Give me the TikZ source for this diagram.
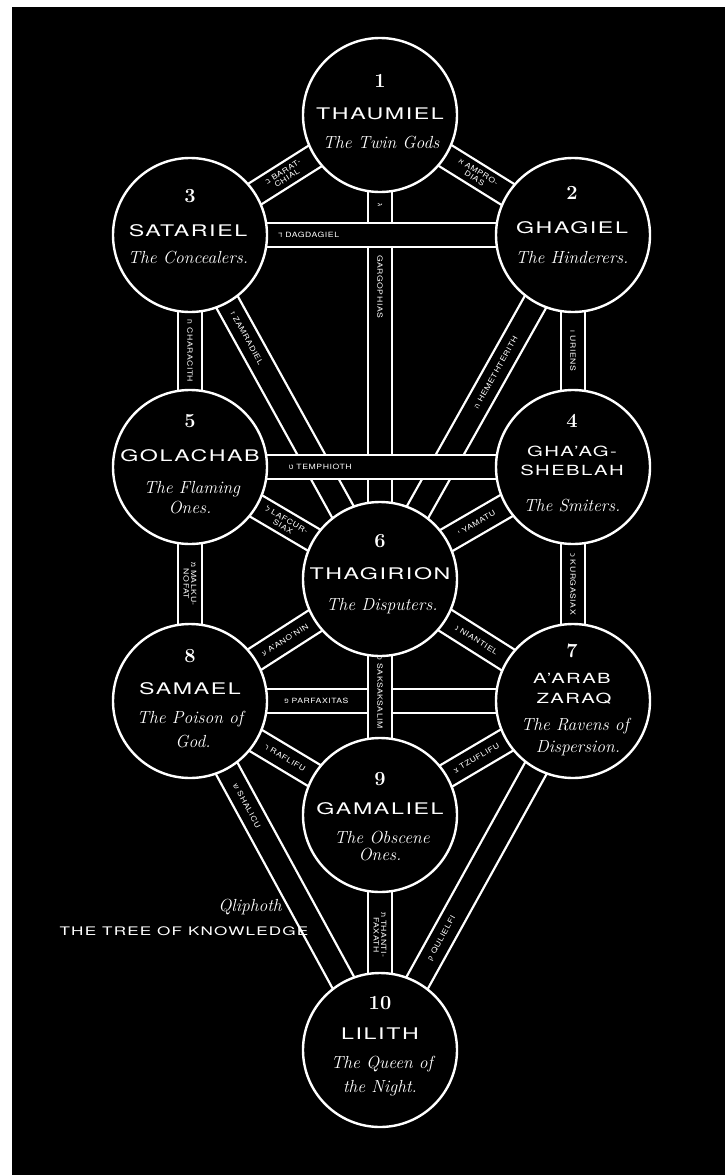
\documentclass[tikz,border=0pt]{standalone}
\usepackage{fontspec}
\newfontfamily\heros[FakeStretch=1.45,LetterSpace=10]{TeX Gyre Heros}
\newfontfamily\labfont[FakeStretch=1.2,LetterSpace=8]{TeX Gyre Heros}
\newfontfamily\hebfont{Liberation Sans}
\pgfdeclarelayer{back}
\pgfdeclarelayer{bars}
\pgfsetlayers{back,bars,main}
\begin{document}
\begin{tikzpicture}[x=1pt,y=-1pt,
  sefira/.style={circle, draw=white, line width=2.4pt, fill=black, minimum size=154pt, inner sep=0pt},
  bar/.style={draw=white, line width=2.3pt, double=black, double distance=22pt},
  blab/.style={sloped, text=white, inner sep=0pt, align=center, font=\labfont\fontsize{7.2}{7.6}\selectfont},
  num/.style={text=white, anchor=base, inner sep=0pt, font=\bfseries\fontsize{20}{20}\selectfont},
  nm/.style={text=white, anchor=base, inner sep=0pt, font=\heros\fontsize{16}{16}\selectfont},
  nms/.style={text=white, anchor=base, inner sep=0pt, font=\heros\fontsize{14}{14}\selectfont},
  desc/.style={text=white, anchor=base, inner sep=0pt, font=\itshape\fontsize{17.5}{17.5}\selectfont},
  captxt/.style={text=white, anchor=base, inner sep=0pt, font=\heros\fontsize{11.8}{11.8}\selectfont}]
\useasboundingbox (0,0) rectangle (725,1175);
\begin{pgfonlayer}{back}
\fill[white] (0,0) rectangle (725,1175);
\fill[black] (12,7) rectangle (725,1175);
\end{pgfonlayer}

% spheres
\node[sefira] (s1) at (380,115) {};
\node[sefira] (s2) at (573,235) {};
\node[sefira] (s3) at (190,235) {};
\node[sefira] (s4) at (573,467) {};
\node[sefira] (s5) at (190,467) {};
\node[sefira] (s6) at (380,579) {};
\node[sefira] (s7) at (573,701) {};
\node[sefira] (s8) at (190,701) {};
\node[sefira] (s9) at (380,815) {};
\node[sefira] (s10) at (380,1050) {};

% texts in spheres
\node[num] (n1) at (380,87) {1};
\node[nm] (m1) at (380,119) {THAUMIEL};
\node[desc] (d1) at (381,148) {The Twin Gods};

\node[num] (n3) at (190,202) {3};
\node[nm] (m3) at (188,236) {SATARIEL};
\node[desc] (d3) at (188,263) {The Concealers.};

\node[num] (n2) at (572,199) {2};
\node[nm] (m2) at (572,233) {GHAGIEL};
\node[desc] (d2) at (572,263) {The Hinderers.};

\node[num] (n5) at (190,427) {5};
\node[nm] (m5) at (190,461) {GOLACHAB};
\node[desc] (d5a) at (192,493) {The Flaming};
\node[desc] (d5b) at (190,513) {Ones.};

\node[num] (n4) at (572,427) {4};
\node[nms] (m4a) at (572,456) {GHA’AG-};
\node[nms] (m4b) at (572,475) {SHEBLAH};
\node[desc] (d4) at (572,511) {The Smiters.};

\node[num] (n6) at (380,547) {6};
\node[nm] (m6) at (380,579) {THAGIRION};
\node[desc] (d6) at (382,610) {The Disputers.};

\node[num] (n8) at (190,662) {8};
\node[nm] (m8) at (190,694) {SAMAEL};
\node[desc] (d8a) at (190,723) {The Poison of};
\node[desc] (d8b) at (193,747) {God.};

\node[num] (n7) at (572,657) {7};
\node[nms] (m7a) at (572,683) {A’ARAB};
\node[nms] (m7b) at (574,703) {ZARAQ};
\node[desc] (d7a) at (575,730) {The Ravens of};
\node[desc] (d7b) at (578,752) {Dispersion.};

\node[num] (n9) at (380,785) {9};
\node[nm] (m9) at (380,814) {GAMALIEL};
\node[desc] (d9a) at (382,843) {The Obscene};
\node[desc] (d9b) at (380,860) {Ones.};

\node[num] (n10) at (380,1009) {10};
\node[nm] (m10) at (380,1039) {LILITH};
\node[desc] (d10a) at (382,1068) {The Queen of};
\node[desc] (d10b) at (380,1092) {the Night.};

% caption
\node[desc] (q) at (250,911) {Qliphoth};
\node[captxt] (tk) at (184,935) {THE TREE OF KNOWLEDGE};

% paths
\begin{pgfonlayer}{bars}
% lower ones at crossings
\draw[bar] (s1.center) -- node[blab,pos=0.194]{\hebfont ג} node[blab,pos=0.37]{GARGOPHIAS} (s6.center);
\draw[bar] (s3.center) -- node[blab,pos=0.30]{{\hebfont ז} ZAMRADIEL} (s6.center);
\draw[bar] (s6.center) -- node[blab,pos=0.60]{{\hebfont ה} HEMETHTERITH} (s2.center);
\draw[bar] (s8.center) -- node[blab,pos=0.33]{{\hebfont פ} PARFAXITAS} (s7.center);
% others
\draw[bar] (s1.center) -- node[blab,pos=0.5]{{\hebfont א} AMPRO-\\DIAS} (s2.center);
\draw[bar] (s3.center) -- node[blab,pos=0.5]{{\hebfont ב} BARAT-\\CHIAL} (s1.center);
\draw[bar] (s3.center) -- node[blab,pos=0.5]{{\hebfont ח} CHARACITH} (s5.center);
\draw[bar] (s2.center) -- node[blab,pos=0.5]{{\hebfont ו} URIENS} (s4.center);
\draw[bar] (s6.center) -- node[blab,pos=0.5]{{\hebfont י} YAMATU} (s4.center);
\draw[bar] (s5.center) -- node[blab,pos=0.5]{{\hebfont ל} LAFCUR-\\SIAX} (s6.center);
\draw[bar] (s5.center) -- node[blab,pos=0.5]{{\hebfont מ} MALKU-\\NOFAT} (s8.center);
\draw[bar] (s4.center) -- node[blab,pos=0.5]{{\hebfont כ} KURGASIAX} (s7.center);
\draw[bar] (s8.center) -- node[blab,pos=0.5]{{\hebfont ע} A’ANO’NIN} (s6.center);
\draw[bar] (s6.center) -- node[blab,pos=0.5]{{\hebfont נ} NIANTIEL} (s7.center);
\draw[bar] (s8.center) -- node[blab,pos=0.5]{{\hebfont ר} RAFLIFU} (s9.center);
\draw[bar] (s9.center) -- node[blab,pos=0.5]{{\hebfont צ} TZUFLIFU} (s7.center);
\draw[bar] (s10.center) -- node[blab,pos=0.32]{{\hebfont ק} QULIELFI} (s7.center);
\draw[bar] (s8.center) -- node[blab,pos=0.30]{{\hebfont ש} SHALICU} (s10.center);
\draw[bar] (s9.center) -- node[blab,pos=0.51]{{\hebfont ת} THANTI-\\FAXATH} (s10.center);
% upper ones at crossings
\draw[bar] (s3.center) -- node[blab,pos=0.31]{{\hebfont ד} DAGDAGIEL} (s2.center);
\draw[bar] (s5.center) -- node[blab,pos=0.34]{{\hebfont ט} TEMPHIOTH} (s4.center);
\draw[bar] (s6.center) -- node[blab,pos=0.48]{{\hebfont ס} SAKSAKSALIM} (s9.center);
\end{pgfonlayer}
\end{tikzpicture}
\end{document}
